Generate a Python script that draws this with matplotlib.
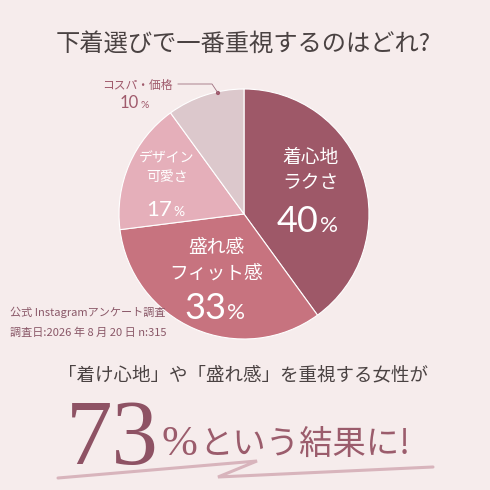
import matplotlib.pyplot as plt
from matplotlib.patches import Circle

plt.rcParams['font.family'] = ['Noto Sans CJK JP', 'DejaVu Sans']

# survey data
labels = ["着心地\nラクさ", "盛れ感\nフィット感", "デザイン\n可愛さ", "コスパ・価格"]
shares = [40, 33, 17, 10]
colors = ["#9e5868", "#c7737f", "#e5afba", "#dcc8cc"]

BG = "#f6ecec"
NUM = ['Lato', 'DejaVu Sans']
fig = plt.figure(figsize=(4.9, 4.9), dpi=100, facecolor=BG)
ax = fig.add_axes([0, 0, 1, 1])

# pie (y axis is inverted, so counterclock=True draws clockwise on screen)
cx, cy, r = 244, 214, 125
ax.pie(shares, colors=colors, startangle=-90, counterclock=True,
       center=(cx, cy), radius=r, frame=True,
       wedgeprops=dict(edgecolor="white", linewidth=0.8))
ax.set_xlim(0, 490)
ax.set_ylim(490, 0)
ax.set_aspect('equal')
ax.axis('off')


def pct(x, y, value, size, color="white"):
    # big digits, smaller percent sign
    ax.text(x, y, str(value), ha='right', va='baseline', fontsize=size,
            color=color, family=NUM)
    ax.text(x + 1, y, "%", ha='left', va='baseline', fontsize=size * 0.62,
            color=color, family=NUM)


# title
ax.text(243, 45, "下着選びで一番重視するのはどれ?", ha='center', va='center',
        fontsize=17.5, color="#4a4242")

# slice labels
ax.text(310, 170, labels[0], ha='center', va='center', fontsize=13.5,
        color="white", linespacing=1.3)
pct(319, 232, shares[0], 26)

ax.text(216, 260, labels[1], ha='center', va='center', fontsize=13.5,
        color="white", linespacing=1.3)
pct(226, 319, shares[1], 26)

ax.text(167, 168, labels[2], ha='center', va='center', fontsize=10,
        color="white", linespacing=1.4)
pct(172, 216, shares[2], 16)

ax.text(137, 85, labels[3], ha='center', va='center', fontsize=8.5,
        color="#a05a6c")
pct(139, 108, shares[3], 12, color="#a05a6c")
ax.plot([178, 212, 218], [84, 84, 93], color="#a07080", lw=0.6)
ax.add_patch(Circle((218, 93), 1.4, color="#a05a6c"))

# survey note
ax.text(10, 312, "公式 Instagramアンケート調査", ha='left', va='center',
        fontsize=8, color="#8a5868")
ax.text(10, 333, "調査日:2026 年 8 月 20 日 n:315", ha='left', va='center',
        fontsize=8, color="#8a5868")

# conclusion
ax.text(243, 375, "「着け心地」や「盛れ感」を重視する女性が", ha='center',
        va='center', fontsize=13.3, color="#4a4242")
ax.plot([58, 257, 218, 433], [478, 461, 477, 467], color="#d8b4bc",
        lw=2.2, solid_joinstyle='miter', solid_capstyle='round')
ax.text(66, 464, "73", ha='left', va='baseline', fontsize=67,
        color="#8e5264", family=['Liberation Serif', 'DejaVu Serif'])
ax.text(161, 445, "%", ha='left', va='center', fontsize=31,
        color="#9b5c6c", family=['Liberation Serif', 'DejaVu Serif'])
ax.text(199, 444, "という結果に!", ha='left', va='center', fontsize=24,
        color="#9b5c6c")

fig.savefig("out.png", dpi=100, facecolor=BG)
